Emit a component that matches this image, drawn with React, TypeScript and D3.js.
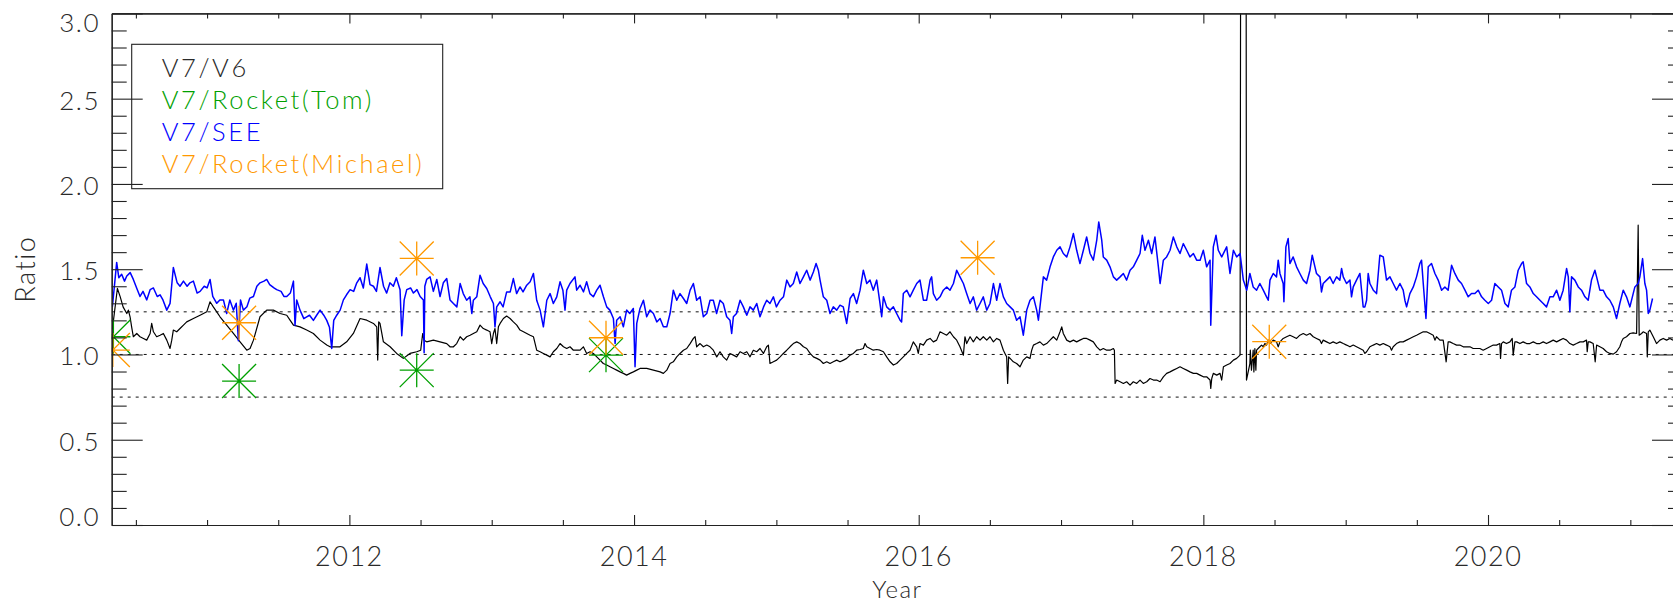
import { useEffect, useRef } from 'react';
import * as d3 from 'd3';

// V7/V6 ratio, black line: [decimal year, ratio]
const V7_V6: [number, number][] = [
  [2010.335, 1.15], [2010.37, 1.387], [2010.39, 1.338], [2010.41, 1.279], [2010.436, 1.24],
  [2010.447, 1.26], [2010.459, 1.221], [2010.47, 1.162], [2010.482, 1.104], [2010.506, 1.123],
  [2010.529, 1.104], [2010.553, 1.094], [2010.576, 1.084], [2010.6, 1.123], [2010.611, 1.182],
  [2010.623, 1.133], [2010.646, 1.104], [2010.67, 1.113], [2010.693, 1.123], [2010.717, 1.084],
  [2010.74, 1.035], [2010.752, 1.084], [2010.763, 1.143], [2010.787, 1.133], [2010.81, 1.152],
  [2010.834, 1.172], [2010.857, 1.191], [2010.904, 1.211], [2010.951, 1.23], [2010.998, 1.25],
  [2011.021, 1.309], [2011.044, 1.279], [2011.068, 1.25], [2011.091, 1.221], [2011.138, 1.172],
  [2011.185, 1.123], [2011.232, 1.074], [2011.279, 1.025], [2011.302, 1.035], [2011.326, 1.084],
  [2011.372, 1.221], [2011.419, 1.26], [2011.466, 1.26], [2011.513, 1.24], [2011.56, 1.23],
  [2011.583, 1.201], [2011.607, 1.172], [2011.653, 1.162], [2011.7, 1.143], [2011.747, 1.123],
  [2011.794, 1.084], [2011.841, 1.055], [2011.864, 1.045], [2011.888, 1.045], [2011.934, 1.045],
  [2011.981, 1.074], [2012.028, 1.123], [2012.075, 1.211], [2012.122, 1.201], [2012.169, 1.182],
  [2012.192, 1.162], [2012.199, 0.967], [2012.206, 1.191], [2012.215, 1.182], [2012.239, 1.074],
  [2012.286, 1.045], [2012.332, 1.006], [2012.379, 0.977], [2012.426, 1.006], [2012.473, 1.016],
  [2012.501, 1.025], [2012.515, 1.123], [2012.524, 1.084], [2012.543, 1.074], [2012.59, 1.084],
  [2012.637, 1.074], [2012.684, 1.064], [2012.707, 1.045], [2012.731, 1.045], [2012.754, 1.064],
  [2012.778, 1.104], [2012.801, 1.084], [2012.824, 1.104], [2012.848, 1.113], [2012.871, 1.123],
  [2012.895, 1.133], [2012.918, 1.172], [2012.941, 1.152], [2012.965, 1.143], [2012.988, 1.133],
  [2013.0, 1.064], [2013.012, 1.123], [2013.023, 1.152], [2013.035, 1.064], [2013.047, 1.162],
  [2013.059, 1.182], [2013.082, 1.211], [2013.105, 1.225], [2013.129, 1.211], [2013.152, 1.191],
  [2013.176, 1.172], [2013.199, 1.143], [2013.223, 1.133], [2013.246, 1.123], [2013.27, 1.113],
  [2013.293, 1.104], [2013.316, 1.025], [2013.34, 1.016], [2013.363, 1.006], [2013.387, 0.996],
  [2013.41, 0.986], [2013.433, 1.016], [2013.457, 1.035], [2013.48, 1.064], [2013.504, 1.045],
  [2013.527, 1.035], [2013.55, 1.045], [2013.574, 1.025], [2013.597, 1.025], [2013.621, 1.025],
  [2013.644, 1.045], [2013.667, 1.006], [2013.691, 1.016], [2013.714, 1.006], [2013.738, 0.986],
  [2013.761, 0.967], [2013.784, 0.947], [2013.808, 0.938], [2013.831, 0.928], [2013.855, 0.918],
  [2013.878, 0.908], [2013.902, 0.898], [2013.925, 0.889], [2013.948, 0.879], [2013.972, 0.889],
  [2013.995, 0.898], [2014.019, 0.908], [2014.042, 0.918], [2014.089, 0.918], [2014.136, 0.908],
  [2014.183, 0.898], [2014.206, 0.889], [2014.23, 0.908], [2014.253, 0.947], [2014.276, 0.957],
  [2014.3, 0.986], [2014.323, 1.006], [2014.347, 1.025], [2014.37, 1.035], [2014.394, 1.064],
  [2014.417, 1.094], [2014.429, 1.104], [2014.44, 1.045], [2014.464, 1.064], [2014.487, 1.045],
  [2014.511, 1.055], [2014.534, 1.045], [2014.557, 1.025], [2014.581, 0.986], [2014.604, 1.016],
  [2014.627, 0.986], [2014.651, 0.967], [2014.674, 1.006], [2014.698, 0.996], [2014.721, 0.986],
  [2014.745, 1.016], [2014.768, 1.006], [2014.792, 1.016], [2014.815, 0.986], [2014.838, 1.025],
  [2014.862, 1.016], [2014.885, 1.035], [2014.909, 1.006], [2014.932, 1.045], [2014.944, 1.055],
  [2014.955, 0.947], [2014.979, 0.957], [2015.002, 0.967], [2015.026, 0.986], [2015.049, 1.006],
  [2015.073, 1.025], [2015.096, 1.045], [2015.119, 1.064], [2015.143, 1.074], [2015.166, 1.064],
  [2015.19, 1.045], [2015.213, 1.035], [2015.237, 1.006], [2015.26, 0.986], [2015.284, 0.977],
  [2015.307, 0.967], [2015.33, 0.947], [2015.354, 0.957], [2015.377, 0.947], [2015.4, 0.957],
  [2015.424, 0.967], [2015.447, 0.957], [2015.471, 0.967], [2015.494, 0.977], [2015.518, 0.996],
  [2015.541, 1.006], [2015.564, 1.025], [2015.588, 1.029], [2015.611, 1.035], [2015.623, 1.064],
  [2015.635, 1.045], [2015.658, 1.035], [2015.681, 1.025], [2015.705, 1.029], [2015.728, 1.025],
  [2015.752, 1.016], [2015.775, 0.986], [2015.799, 0.957], [2015.822, 0.938], [2015.845, 0.947],
  [2015.869, 0.967], [2015.892, 0.986], [2015.916, 1.006], [2015.939, 1.025], [2015.962, 1.074],
  [2015.986, 1.045], [2015.997, 1.006], [2016.009, 1.064], [2016.033, 1.055], [2016.056, 1.084],
  [2016.08, 1.094], [2016.103, 1.074], [2016.126, 1.084], [2016.15, 1.133], [2016.173, 1.123],
  [2016.197, 1.113], [2016.22, 1.133], [2016.244, 1.104], [2016.267, 1.084], [2016.29, 1.045],
  [2016.314, 0.996], [2016.325, 1.104], [2016.337, 1.064], [2016.361, 1.104], [2016.384, 1.074],
  [2016.407, 1.104], [2016.431, 1.084], [2016.454, 1.104], [2016.478, 1.084], [2016.501, 1.104],
  [2016.525, 1.074], [2016.548, 1.094], [2016.571, 1.084], [2016.595, 1.025], [2016.606, 1.006],
  [2016.618, 0.986], [2016.625, 0.83], [2016.632, 0.986], [2016.642, 0.977], [2016.665, 0.957],
  [2016.688, 0.947], [2016.712, 0.928], [2016.735, 0.967], [2016.759, 0.986], [2016.782, 0.977],
  [2016.794, 1.025], [2016.806, 1.055], [2016.829, 1.064], [2016.852, 1.074], [2016.876, 1.055],
  [2016.899, 1.064], [2016.923, 1.084], [2016.946, 1.104], [2016.97, 1.084], [2016.993, 1.133],
  [2017.005, 1.162], [2017.016, 1.123], [2017.04, 1.084], [2017.063, 1.074], [2017.087, 1.084],
  [2017.11, 1.074], [2017.133, 1.084], [2017.157, 1.094], [2017.18, 1.094], [2017.204, 1.084],
  [2017.227, 1.074], [2017.251, 1.045], [2017.274, 1.025], [2017.297, 1.035], [2017.321, 1.025],
  [2017.344, 1.025], [2017.368, 1.035], [2017.375, 1.025], [2017.38, 0.83], [2017.391, 0.85],
  [2017.415, 0.84], [2017.438, 0.83], [2017.461, 0.84], [2017.485, 0.82], [2017.508, 0.84],
  [2017.532, 0.83], [2017.555, 0.85], [2017.578, 0.83], [2017.602, 0.84], [2017.625, 0.859],
  [2017.649, 0.85], [2017.672, 0.85], [2017.696, 0.84], [2017.719, 0.869], [2017.742, 0.889],
  [2017.766, 0.898], [2017.789, 0.908], [2017.813, 0.918], [2017.836, 0.928], [2017.859, 0.918],
  [2017.883, 0.908], [2017.906, 0.898], [2017.93, 0.889], [2017.953, 0.889], [2017.977, 0.879],
  [2018.0, 0.869], [2018.023, 0.869], [2018.047, 0.85], [2018.052, 0.801], [2018.059, 0.859],
  [2018.07, 0.889], [2018.094, 0.879], [2018.117, 0.889], [2018.129, 0.85], [2018.141, 0.928],
  [2018.164, 0.938], [2018.187, 0.947], [2018.211, 0.967], [2018.234, 0.977], [2018.258, 0.996],
  [2018.263, 4.0], [2018.3, 4.0], [2018.303, 0.85], [2018.327, 0.947], [2018.33, 1.025],
  [2018.338, 0.908], [2018.35, 1.025], [2018.355, 0.898], [2018.362, 1.035], [2018.369, 0.908],
  [2018.374, 1.025], [2018.385, 1.035], [2018.397, 1.045], [2018.409, 1.055], [2018.421, 1.045],
  [2018.432, 1.064], [2018.444, 1.055], [2018.456, 1.084], [2018.468, 1.064], [2018.479, 1.074],
  [2018.491, 1.084], [2018.514, 1.074], [2018.526, 1.045], [2018.538, 1.074], [2018.561, 1.094],
  [2018.585, 1.104], [2018.608, 1.113], [2018.631, 1.104], [2018.655, 1.094], [2018.678, 1.113],
  [2018.702, 1.123], [2018.725, 1.113], [2018.749, 1.123], [2018.772, 1.104], [2018.795, 1.094],
  [2018.819, 1.084], [2018.83, 1.064], [2018.842, 1.084], [2018.866, 1.074], [2018.889, 1.064],
  [2018.912, 1.074], [2018.936, 1.064], [2018.959, 1.074], [2018.983, 1.064], [2019.006, 1.055],
  [2019.03, 1.045], [2019.053, 1.055], [2019.076, 1.045], [2019.1, 1.035], [2019.123, 1.025],
  [2019.135, 1.006], [2019.147, 1.016], [2019.17, 1.045], [2019.194, 1.055], [2019.217, 1.064],
  [2019.24, 1.055], [2019.264, 1.064], [2019.287, 1.055], [2019.311, 1.045], [2019.322, 1.025],
  [2019.334, 1.045], [2019.357, 1.064], [2019.381, 1.074], [2019.404, 1.074], [2019.428, 1.084],
  [2019.451, 1.094], [2019.475, 1.104], [2019.498, 1.113], [2019.521, 1.123], [2019.545, 1.133],
  [2019.568, 1.133], [2019.592, 1.123], [2019.615, 1.113], [2019.627, 1.084], [2019.638, 1.104],
  [2019.662, 1.084], [2019.685, 1.084], [2019.706, 0.957], [2019.72, 1.074], [2019.732, 1.074],
  [2019.755, 1.064], [2019.779, 1.055], [2019.802, 1.055], [2019.826, 1.045], [2019.849, 1.045],
  [2019.873, 1.045], [2019.896, 1.035], [2019.92, 1.035], [2019.943, 1.035], [2019.966, 1.025],
  [2019.99, 1.035], [2020.013, 1.045], [2020.037, 1.055], [2020.06, 1.055], [2020.083, 1.064],
  [2020.088, 0.977], [2020.095, 1.064], [2020.107, 1.074], [2020.13, 1.064], [2020.154, 1.074],
  [2020.17, 1.094], [2020.177, 0.996], [2020.189, 1.074], [2020.201, 1.074], [2020.224, 1.064],
  [2020.247, 1.074], [2020.271, 1.064], [2020.294, 1.064], [2020.318, 1.074], [2020.341, 1.064],
  [2020.365, 1.064], [2020.388, 1.074], [2020.411, 1.064], [2020.435, 1.074], [2020.458, 1.084],
  [2020.482, 1.074], [2020.505, 1.084], [2020.528, 1.094], [2020.552, 1.084], [2020.575, 1.064],
  [2020.599, 1.055], [2020.622, 1.064], [2020.646, 1.074], [2020.669, 1.074], [2020.692, 1.084],
  [2020.697, 1.016], [2020.704, 1.074], [2020.716, 1.074], [2020.739, 1.064], [2020.753, 0.957],
  [2020.763, 1.055], [2020.786, 1.045], [2020.809, 1.035], [2020.833, 1.016], [2020.856, 1.006],
  [2020.88, 1.002], [2020.903, 1.016], [2020.926, 1.045], [2020.938, 1.074], [2020.95, 1.094],
  [2020.973, 1.104], [2020.997, 1.123], [2021.02, 1.127], [2021.044, 1.123], [2021.055, 1.758],
  [2021.062, 1.113], [2021.079, 1.123], [2021.09, 1.133], [2021.114, 1.123], [2021.119, 0.986],
  [2021.126, 1.133], [2021.137, 1.143], [2021.161, 1.104], [2021.184, 1.064], [2021.208, 1.084],
  [2021.231, 1.094], [2021.255, 1.084], [2021.278, 1.094], [2021.3, 1.084],
];

// V7/SEE ratio, blue line: [decimal year, ratio]
const V7_SEE: [number, number][] = [
  [2010.335, 1.28], [2010.365, 1.54], [2010.38, 1.45], [2010.4, 1.47], [2010.42, 1.43],
  [2010.436, 1.46], [2010.46, 1.48], [2010.482, 1.44], [2010.51, 1.38], [2010.529, 1.34],
  [2010.55, 1.37], [2010.576, 1.32], [2010.6, 1.38], [2010.623, 1.39], [2010.65, 1.34],
  [2010.67, 1.35], [2010.69, 1.32], [2010.717, 1.26], [2010.74, 1.3], [2010.763, 1.51],
  [2010.79, 1.42], [2010.81, 1.4], [2010.834, 1.43], [2010.86, 1.4], [2010.88, 1.42],
  [2010.904, 1.43], [2010.93, 1.36], [2010.951, 1.37], [2010.98, 1.4], [2011.0, 1.39],
  [2011.021, 1.44], [2011.04, 1.34], [2011.068, 1.3], [2011.09, 1.32], [2011.115, 1.32],
  [2011.138, 1.24], [2011.16, 1.32], [2011.185, 1.26], [2011.205, 1.3], [2011.22, 1.08],
  [2011.235, 1.32], [2011.255, 1.26], [2011.28, 1.28], [2011.3, 1.33], [2011.326, 1.34],
  [2011.35, 1.4], [2011.372, 1.42], [2011.4, 1.43], [2011.419, 1.44], [2011.44, 1.41],
  [2011.47, 1.39], [2011.489, 1.38], [2011.52, 1.37], [2011.54, 1.34], [2011.56, 1.34],
  [2011.585, 1.36], [2011.607, 1.43], [2011.618, 1.17], [2011.63, 1.32], [2011.653, 1.26],
  [2011.68, 1.21], [2011.7, 1.22], [2011.72, 1.23], [2011.747, 1.2], [2011.77, 1.23],
  [2011.794, 1.26], [2011.82, 1.23], [2011.841, 1.2], [2011.86, 1.16], [2011.876, 1.035],
  [2011.89, 1.2], [2011.911, 1.23], [2011.935, 1.26], [2011.958, 1.32], [2011.98, 1.35],
  [2012.005, 1.38], [2012.03, 1.37], [2012.052, 1.42], [2012.075, 1.45], [2012.098, 1.39],
  [2012.122, 1.53], [2012.145, 1.41], [2012.169, 1.4], [2012.19, 1.37], [2012.215, 1.51],
  [2012.24, 1.4], [2012.262, 1.36], [2012.285, 1.42], [2012.309, 1.4], [2012.33, 1.45],
  [2012.356, 1.38], [2012.368, 1.11], [2012.385, 1.32], [2012.403, 1.38], [2012.43, 1.39],
  [2012.45, 1.36], [2012.475, 1.38], [2012.497, 1.34], [2012.52, 1.32], [2012.525, 1.01],
  [2012.53, 1.4], [2012.543, 1.44], [2012.567, 1.455], [2012.59, 1.37], [2012.614, 1.44],
  [2012.637, 1.34], [2012.66, 1.42], [2012.684, 1.445], [2012.707, 1.32], [2012.731, 1.299],
  [2012.755, 1.279], [2012.778, 1.416], [2012.8, 1.357], [2012.824, 1.318], [2012.847, 1.338],
  [2012.86, 1.24], [2012.871, 1.318], [2012.895, 1.338], [2012.918, 1.465], [2012.94, 1.416],
  [2012.965, 1.387], [2012.99, 1.338], [2013.012, 1.299], [2013.023, 1.162], [2013.035, 1.279],
  [2013.059, 1.309], [2013.08, 1.279], [2013.105, 1.367], [2013.13, 1.367], [2013.152, 1.445],
  [2013.175, 1.357], [2013.199, 1.396], [2013.22, 1.367], [2013.246, 1.406], [2013.27, 1.426],
  [2013.293, 1.475], [2013.316, 1.318], [2013.34, 1.26], [2013.363, 1.162], [2013.387, 1.318],
  [2013.41, 1.357], [2013.433, 1.299], [2013.457, 1.338], [2013.48, 1.426], [2013.5, 1.377],
  [2013.515, 1.26], [2013.527, 1.377], [2013.55, 1.416], [2013.585, 1.455], [2013.597, 1.377],
  [2013.621, 1.406], [2013.645, 1.367], [2013.667, 1.426], [2013.69, 1.357], [2013.714, 1.338],
  [2013.738, 1.377], [2013.761, 1.406], [2013.785, 1.338], [2013.808, 1.279], [2013.83, 1.26],
  [2013.855, 1.211], [2013.867, 1.064], [2013.878, 1.201], [2013.902, 1.221], [2013.925, 1.162],
  [2013.948, 1.26], [2013.97, 1.24], [2013.995, 1.27], [2014.007, 0.928], [2014.019, 1.182],
  [2014.042, 1.27], [2014.066, 1.318], [2014.089, 1.221], [2014.112, 1.26], [2014.136, 1.24],
  [2014.16, 1.191], [2014.183, 1.211], [2014.206, 1.162], [2014.23, 1.162], [2014.253, 1.24],
  [2014.276, 1.377], [2014.3, 1.318], [2014.323, 1.357], [2014.347, 1.328], [2014.37, 1.299],
  [2014.394, 1.377], [2014.417, 1.416], [2014.44, 1.318], [2014.464, 1.338], [2014.487, 1.221],
  [2014.511, 1.24], [2014.534, 1.318], [2014.557, 1.318], [2014.58, 1.24], [2014.604, 1.318],
  [2014.627, 1.299], [2014.651, 1.221], [2014.674, 1.201], [2014.686, 1.123], [2014.698, 1.221],
  [2014.72, 1.24], [2014.745, 1.318], [2014.768, 1.279], [2014.792, 1.23], [2014.815, 1.279],
  [2014.838, 1.26], [2014.862, 1.299], [2014.885, 1.221], [2014.91, 1.279], [2014.932, 1.318],
  [2014.955, 1.299], [2014.979, 1.338], [2015.0, 1.279], [2015.026, 1.318], [2015.05, 1.338],
  [2015.073, 1.436], [2015.096, 1.396], [2015.119, 1.416], [2015.143, 1.484], [2015.166, 1.416],
  [2015.19, 1.455], [2015.213, 1.494], [2015.237, 1.436], [2015.26, 1.484], [2015.279, 1.533],
  [2015.295, 1.494], [2015.307, 1.436], [2015.33, 1.338], [2015.354, 1.318], [2015.377, 1.24],
  [2015.4, 1.279], [2015.424, 1.26], [2015.447, 1.289], [2015.47, 1.279], [2015.494, 1.182],
  [2015.518, 1.328], [2015.541, 1.357], [2015.564, 1.299], [2015.588, 1.377], [2015.611, 1.494],
  [2015.635, 1.416], [2015.658, 1.436], [2015.681, 1.377], [2015.705, 1.436], [2015.728, 1.299],
  [2015.74, 1.221], [2015.752, 1.338], [2015.775, 1.279], [2015.799, 1.26], [2015.822, 1.279],
  [2015.845, 1.24], [2015.869, 1.201], [2015.88, 1.191], [2015.892, 1.357], [2015.916, 1.377],
  [2015.939, 1.338], [2015.962, 1.377], [2015.986, 1.416], [2016.009, 1.436], [2016.033, 1.318],
  [2016.056, 1.318], [2016.08, 1.436], [2016.091, 1.455], [2016.103, 1.357], [2016.126, 1.318],
  [2016.15, 1.338], [2016.173, 1.377], [2016.197, 1.396], [2016.22, 1.377], [2016.244, 1.416],
  [2016.267, 1.494], [2016.29, 1.455], [2016.314, 1.416], [2016.337, 1.357], [2016.361, 1.299],
  [2016.384, 1.338], [2016.407, 1.26], [2016.431, 1.299], [2016.454, 1.338], [2016.478, 1.26],
  [2016.501, 1.299], [2016.525, 1.416], [2016.548, 1.318], [2016.571, 1.416], [2016.595, 1.338],
  [2016.618, 1.299], [2016.642, 1.279], [2016.665, 1.26], [2016.688, 1.201], [2016.712, 1.221],
  [2016.735, 1.113], [2016.759, 1.26], [2016.782, 1.318], [2016.806, 1.338], [2016.829, 1.26],
  [2016.841, 1.201], [2016.852, 1.279], [2016.876, 1.455], [2016.899, 1.436], [2016.923, 1.514],
  [2016.946, 1.572], [2016.97, 1.611], [2016.993, 1.631], [2017.016, 1.592], [2017.04, 1.572],
  [2017.063, 1.631], [2017.087, 1.709], [2017.11, 1.611], [2017.133, 1.533], [2017.157, 1.611],
  [2017.18, 1.689], [2017.204, 1.592], [2017.227, 1.553], [2017.251, 1.67], [2017.265, 1.777],
  [2017.286, 1.67], [2017.297, 1.572], [2017.321, 1.553], [2017.344, 1.514], [2017.368, 1.455],
  [2017.391, 1.436], [2017.415, 1.455], [2017.438, 1.475], [2017.461, 1.436], [2017.485, 1.494],
  [2017.508, 1.514], [2017.532, 1.553], [2017.555, 1.592], [2017.571, 1.699], [2017.59, 1.611],
  [2017.614, 1.67], [2017.637, 1.592], [2017.66, 1.689], [2017.684, 1.514], [2017.696, 1.416],
  [2017.719, 1.553], [2017.742, 1.572], [2017.766, 1.611], [2017.789, 1.689], [2017.813, 1.631],
  [2017.836, 1.592], [2017.859, 1.65], [2017.883, 1.611], [2017.906, 1.572], [2017.93, 1.592],
  [2017.953, 1.553], [2017.977, 1.553], [2018.0, 1.611], [2018.023, 1.514], [2018.047, 1.553],
  [2018.052, 1.172], [2018.07, 1.631], [2018.089, 1.699], [2018.105, 1.611], [2018.129, 1.572],
  [2018.164, 1.631], [2018.187, 1.475], [2018.211, 1.611], [2018.234, 1.572], [2018.258, 1.592],
  [2018.281, 1.436], [2018.305, 1.377], [2018.327, 1.475], [2018.35, 1.396], [2018.374, 1.377],
  [2018.397, 1.416], [2018.421, 1.377], [2018.444, 1.338], [2018.456, 1.318], [2018.468, 1.436],
  [2018.491, 1.475], [2018.514, 1.455], [2018.526, 1.553], [2018.538, 1.475], [2018.561, 1.416],
  [2018.566, 1.309], [2018.58, 1.631], [2018.596, 1.68], [2018.608, 1.533], [2018.631, 1.572],
  [2018.655, 1.514], [2018.678, 1.475], [2018.702, 1.436], [2018.725, 1.416], [2018.749, 1.494],
  [2018.765, 1.582], [2018.784, 1.514], [2018.795, 1.475], [2018.819, 1.455], [2018.83, 1.367],
  [2018.842, 1.416], [2018.866, 1.436], [2018.889, 1.455], [2018.912, 1.416], [2018.936, 1.455],
  [2018.959, 1.436], [2018.971, 1.504], [2018.983, 1.455], [2019.006, 1.416], [2019.03, 1.436],
  [2019.041, 1.338], [2019.053, 1.396], [2019.076, 1.436], [2019.1, 1.475], [2019.123, 1.279],
  [2019.135, 1.279], [2019.147, 1.318], [2019.158, 1.475], [2019.17, 1.416], [2019.194, 1.377],
  [2019.217, 1.357], [2019.24, 1.582], [2019.264, 1.572], [2019.287, 1.436], [2019.311, 1.455],
  [2019.334, 1.416], [2019.357, 1.377], [2019.381, 1.416], [2019.404, 1.377], [2019.416, 1.318],
  [2019.428, 1.279], [2019.451, 1.357], [2019.475, 1.396], [2019.498, 1.455], [2019.521, 1.533],
  [2019.533, 1.553], [2019.545, 1.416], [2019.564, 1.211], [2019.58, 1.514], [2019.603, 1.533],
  [2019.627, 1.475], [2019.65, 1.436], [2019.674, 1.377], [2019.697, 1.396], [2019.72, 1.377],
  [2019.744, 1.523], [2019.767, 1.475], [2019.791, 1.436], [2019.814, 1.416], [2019.838, 1.377],
  [2019.861, 1.338], [2019.884, 1.357], [2019.908, 1.357], [2019.931, 1.377], [2019.955, 1.338],
  [2019.978, 1.318], [2020.002, 1.299], [2020.025, 1.318], [2020.048, 1.416], [2020.072, 1.396],
  [2020.095, 1.377], [2020.119, 1.299], [2020.142, 1.279], [2020.165, 1.377], [2020.189, 1.396],
  [2020.212, 1.494], [2020.236, 1.533], [2020.247, 1.543], [2020.271, 1.416], [2020.294, 1.396],
  [2020.318, 1.357], [2020.341, 1.338], [2020.365, 1.318], [2020.388, 1.299], [2020.411, 1.279],
  [2020.435, 1.338], [2020.458, 1.338], [2020.482, 1.377], [2020.505, 1.318], [2020.528, 1.377],
  [2020.552, 1.504], [2020.564, 1.455], [2020.575, 1.25], [2020.587, 1.455], [2020.61, 1.436],
  [2020.634, 1.396], [2020.657, 1.377], [2020.681, 1.338], [2020.704, 1.318], [2020.727, 1.436],
  [2020.751, 1.494], [2020.763, 1.455], [2020.786, 1.377], [2020.809, 1.377], [2020.833, 1.338],
  [2020.856, 1.318], [2020.88, 1.279], [2020.903, 1.211], [2020.926, 1.299], [2020.95, 1.377],
  [2020.973, 1.338], [2020.997, 1.279], [2021.02, 1.357], [2021.032, 1.396], [2021.055, 1.416],
  [2021.067, 1.455], [2021.086, 1.562], [2021.102, 1.416], [2021.114, 1.377], [2021.126, 1.24],
  [2021.137, 1.26], [2021.156, 1.328],
];

// single rocket comparisons, drawn as asterisks
const ROCKET_TOM: [number, number][] = [
  [2010.342, 1.104], [2011.225, 0.844], [2012.473, 0.908], [2013.803, 0.996],
];
const ROCKET_MICHAEL: [number, number][] = [
  [2010.338, 1.026], [2011.225, 1.186], [2012.473, 1.563], [2013.803, 1.098],
  [2016.414, 1.567], [2018.463, 1.075],
];

const REFERENCE_LEVELS = [0.75, 1.0, 1.25];
const X_DOMAIN: [number, number] = [2010.33, 2021.37];
const Y_DOMAIN: [number, number] = [0, 3];
const YEAR_TICKS = [2012, 2014, 2016, 2018, 2020];
const RATIO_TICKS = [0, 0.5, 1, 1.5, 2, 2.5, 3];
const RATIO_TICK_LABELS = ['0.0', '0.5', '1.0', '1.5', '2.0', '2.5', '3.0'];
const LEGEND_LABELS = ['V7/V6', 'V7/Rocket(Tom)', 'V7/SEE', 'V7/Rocket(Michael)'];

const COLORS = {
  v6: '#000000',
  tom: '#00a000',
  see: '#0000ff',
  michael: '#ff9900',
  axis: '#222222',
  text: '#2a2a2a',
};
const LEGEND_COLORS = [COLORS.text, COLORS.tom, COLORS.see, COLORS.michael];

const WIDTH = 1673;
const HEIGHT = 605;
// right edge of the plot box sits just outside the picture
const PLOT = { left: 111.7, right: 1683, top: 13.4, bottom: 525 };
const FONT = 'Lato, "DejaVu Sans", sans-serif';
const WEIGHT = 300;
const STAR = 17;

function asteriskPath(s: number) {
  return `M${-s},0L${s},0M0,${-s}L0,${s}M${-s},${-s}L${s},${s}M${-s},${s}L${s},${-s}`;
}

export default function App() {
  const svgRef = useRef<SVGSVGElement>(null);

  useEffect(() => {
    if (!svgRef.current) return;
    const svg = d3.select(svgRef.current);
    svg.selectAll('*').remove();

    const x = d3.scaleLinear().domain(X_DOMAIN).range([PLOT.left, PLOT.right]);
    const y = d3.scaleLinear().domain(Y_DOMAIN).range([PLOT.bottom, PLOT.top]);

    svg.append('rect').attr('width', WIDTH).attr('height', HEIGHT).attr('fill', '#ffffff');

    svg
      .append('defs')
      .append('clipPath')
      .attr('id', 'plot-clip')
      .append('rect')
      .attr('x', PLOT.left)
      .attr('y', PLOT.top)
      .attr('width', PLOT.right - PLOT.left)
      .attr('height', PLOT.bottom - PLOT.top);

    const plot = svg.append('g').attr('clip-path', 'url(#plot-clip)');

    // dotted reference levels
    plot
      .selectAll('.ref')
      .data(REFERENCE_LEVELS)
      .enter()
      .append('line')
      .attr('x1', PLOT.left)
      .attr('x2', PLOT.right)
      .attr('y1', (d: number) => y(d))
      .attr('y2', (d: number) => y(d))
      .attr('stroke', '#111')
      .attr('stroke-width', 1)
      .attr('stroke-dasharray', '3,5');

    const line = d3
      .line<[number, number]>()
      .x(d => x(d[0]))
      .y(d => y(d[1]));

    const drawStars = (pts: [number, number][], color: string) => {
      plot
        .append('g')
        .selectAll('path')
        .data(pts)
        .enter()
        .append('path')
        .attr('d', asteriskPath(STAR))
        .attr('transform', (d: [number, number]) => `translate(${x(d[0])},${y(d[1])})`)
        .attr('fill', 'none')
        .attr('stroke', color)
        .attr('stroke-width', 1.3);
    };

    plot
      .append('path')
      .datum(V7_V6)
      .attr('d', line)
      .attr('fill', 'none')
      .attr('stroke', COLORS.v6)
      .attr('stroke-width', 1.2)
      .attr('stroke-linejoin', 'round');

    drawStars(ROCKET_TOM, COLORS.tom);

    plot
      .append('path')
      .datum(V7_SEE)
      .attr('d', line)
      .attr('fill', 'none')
      .attr('stroke', COLORS.see)
      .attr('stroke-width', 1.5)
      .attr('stroke-linejoin', 'round');

    drawStars(ROCKET_MICHAEL, COLORS.michael);

    // axes: IDL style box with inward ticks
    const minorYears = d3.range(2010.5, 2021.4, 0.5).filter(v => !YEAR_TICKS.includes(v));
    const minorRatios = d3
      .range(0, 3.001, 0.1)
      .map(v => +v.toFixed(1))
      .filter(v => !RATIO_TICKS.includes(v));
    const noLabel = () => '';

    const axes = svg.append('g').attr('font-family', FONT);
    const addAxis = (axis: any, transform: string) => {
      const g = axes.append('g').attr('transform', transform).call(axis);
      g.select('.domain').attr('stroke', COLORS.axis).attr('stroke-width', 1.2);
      g.selectAll('.tick line').attr('stroke', COLORS.axis).attr('stroke-width', 1.1);
      g.selectAll('.tick text').remove();
      return g;
    };

    addAxis(
      d3.axisBottom(x).tickValues(YEAR_TICKS).tickSize(-10).tickSizeOuter(0).tickFormat(noLabel),
      `translate(0,${PLOT.bottom})`,
    );
    addAxis(
      d3.axisBottom(x).tickValues(minorYears).tickSize(-5).tickSizeOuter(0).tickFormat(noLabel),
      `translate(0,${PLOT.bottom})`,
    );
    addAxis(
      d3.axisTop(x).tickValues(YEAR_TICKS).tickSize(-10).tickSizeOuter(0).tickFormat(noLabel),
      `translate(0,${PLOT.top})`,
    );
    addAxis(
      d3.axisTop(x).tickValues(minorYears).tickSize(-5).tickSizeOuter(0).tickFormat(noLabel),
      `translate(0,${PLOT.top})`,
    );
    addAxis(
      d3.axisLeft(y).tickValues(RATIO_TICKS).tickSize(-31).tickSizeOuter(0).tickFormat(noLabel),
      `translate(${PLOT.left},0)`,
    );
    addAxis(
      d3.axisLeft(y).tickValues(minorRatios).tickSize(-15).tickSizeOuter(0).tickFormat(noLabel),
      `translate(${PLOT.left},0)`,
    );
    addAxis(
      d3.axisRight(y).tickValues(RATIO_TICKS).tickSize(-31).tickSizeOuter(0).tickFormat(noLabel),
      `translate(${PLOT.right},0)`,
    );
    addAxis(
      d3.axisRight(y).tickValues(minorRatios).tickSize(-15).tickSizeOuter(0).tickFormat(noLabel),
      `translate(${PLOT.right},0)`,
    );

    // year labels
    axes
      .selectAll('.xlab')
      .data(YEAR_TICKS)
      .enter()
      .append('text')
      .attr('x', (d: number) => x(d))
      .attr('y', PLOT.bottom + 41)
      .attr('text-anchor', 'middle')
      .attr('font-size', '27px')
      .attr('font-weight', WEIGHT)
      .attr('letter-spacing', '1.5px')
      .attr('fill', COLORS.text)
      .text((d: number) => String(d));

    // ratio labels (end labels kept inside the box, as in the original)
    axes
      .selectAll('.ylab')
      .data(RATIO_TICKS)
      .enter()
      .append('text')
      .attr('x', 100)
      .attr('y', (d: number, i: number) => {
        if (i === 0) return y(d) + 0.5;
        if (i === RATIO_TICKS.length - 1) return y(d) + 19;
        return y(d) + 11;
      })
      .attr('text-anchor', 'end')
      .attr('font-size', '26px')
      .attr('font-weight', WEIGHT)
      .attr('letter-spacing', '1.5px')
      .attr('fill', COLORS.text)
      .text((_d: number, i: number) => RATIO_TICK_LABELS[i]);

    axes
      .append('text')
      .attr('x', (PLOT.left + PLOT.right) / 2)
      .attr('y', 598)
      .attr('text-anchor', 'middle')
      .attr('font-size', '24px')
      .attr('font-weight', WEIGHT)
      .attr('letter-spacing', '1.5px')
      .attr('fill', COLORS.text)
      .text('Year');

    axes
      .append('text')
      .attr('transform', `translate(35,${(PLOT.top + PLOT.bottom) / 2}) rotate(-90)`)
      .attr('text-anchor', 'middle')
      .attr('font-size', '27px')
      .attr('font-weight', WEIGHT)
      .attr('letter-spacing', '1.5px')
      .attr('fill', COLORS.text)
      .text('Ratio');

    // legend
    const legend = svg.append('g').attr('font-family', FONT);
    legend
      .append('rect')
      .attr('x', 131.7)
      .attr('y', 44.3)
      .attr('width', 311)
      .attr('height', 144.4)
      .attr('fill', 'none')
      .attr('stroke', COLORS.axis)
      .attr('stroke-width', 1.1);
    legend
      .selectAll('.leg')
      .data(LEGEND_LABELS)
      .enter()
      .append('text')
      .attr('x', 161.7)
      .attr('y', (_d: string, i: number) => 76.7 + i * 32.2)
      .attr('font-size', '25.5px')
      .attr('font-weight', WEIGHT)
      .attr('letter-spacing', '2.6px')
      .attr('fill', (_d: string, i: number) => LEGEND_COLORS[i])
      .text((d: string) => d);
  }, []);

  return (
    <svg
      ref={svgRef}
      width={WIDTH}
      height={HEIGHT}
      style={{ position: 'absolute', left: 0, top: 0, display: 'block' }}
    />
  );
}
